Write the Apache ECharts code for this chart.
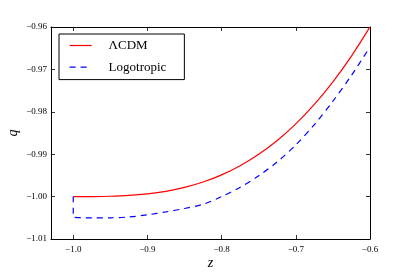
<!DOCTYPE html>
<html><head><meta charset="utf-8">
<script src="https://cdn.jsdelivr.net/npm/echarts@6/dist/echarts.min.js"></script>
<style>html,body{margin:0;padding:0;background:#fff}#c{width:412px;height:274px}</style>
</head><body><div id="c"></div>
<script>
const zValues = [-1.0, -0.975, -0.95, -0.925, -0.9, -0.875, -0.85, -0.825, -0.8, -0.775, -0.75, -0.725, -0.7, -0.675, -0.65, -0.625, -0.6];
const lcdmQ = [-1.0000, -0.99999, -0.99992, -0.99973, -0.99936, -0.99875, -0.99783, -0.99656, -0.99487, -0.99271, -0.99002, -0.98675, -0.98284, -0.97825, -0.97293, -0.96685, -0.95996];
const logoZ = [-1.0, -1.0, -0.975, -0.95, -0.925, -0.9, -0.875, -0.85, -0.825, -0.8, -0.775, -0.75, -0.725, -0.7, -0.675, -0.65, -0.625, -0.6];
const logoQ = [-1.0000, -1.0048, -1.0050, -1.0050, -1.0048, -1.0043, -1.0036, -1.0028, -1.0018, -1.0000, -0.9978, -0.9951, -0.9918, -0.9878, -0.9830, -0.9775, -0.9714, -0.9647];
const xTicks = [-1.0, -0.9, -0.8, -0.7, -0.6];
const yTicks = [-1.01, -1.00, -0.99, -0.98, -0.97, -0.96];
const seriesNames = ['\u039BCDM', 'Logotropic'];

const font = 'Liberation Serif';
const minus = s => s.replace('-', '\u2212');
const chart = echarts.init(document.getElementById('c'), null, {renderer: 'canvas'});
const tickStyle = {show: true, inside: true, length: 4, lineStyle: {color: '#000', width: 0.8}};
const baseX = {type: 'value', min: -1.03, max: -0.6, interval: 0.1, splitLine: {show: false},
  axisLine: {show: true, onZero: false, lineStyle: {color: '#000', width: 1}}, axisTick: tickStyle};
const baseY = {type: 'value', min: -1.01, max: -0.96, interval: 0.01, splitLine: {show: false},
  axisLine: {show: true, onZero: false, lineStyle: {color: '#000', width: 1}}, axisTick: tickStyle};
chart.setOption({
  animation: false,
  grid: {left: 51, right: 42, top: 27, bottom: 35, containLabel: false, outerBoundsMode: 'none'},
  xAxis: [
    Object.assign({}, baseX, {position: 'bottom',
      axisLabel: {show: true, fontFamily: font, fontSize: 9, color: '#000', margin: 6,
        customValues: xTicks, formatter: v => minus(v.toFixed(1))},
      axisTick: Object.assign({}, tickStyle, {customValues: xTicks}),
      name: 'z', nameLocation: 'middle', nameGap: 17, nameMoveOverlap: false,
      nameTextStyle: {fontFamily: font, fontStyle: 'italic', fontSize: 14, color: '#000'}}),
    Object.assign({}, baseX, {position: 'top', axisLabel: {show: false},
      axisTick: Object.assign({}, tickStyle, {customValues: xTicks})})
  ],
  yAxis: [
    Object.assign({}, baseY, {position: 'left',
      axisLabel: {show: true, fontFamily: font, fontSize: 9, color: '#000', margin: 4,
        formatter: v => minus(v.toFixed(2))},
      name: 'q', nameLocation: 'middle', nameGap: 31, nameRotate: 90, nameMoveOverlap: false,
      nameTextStyle: {fontFamily: font, fontStyle: 'italic', fontSize: 14, color: '#000'}}),
    Object.assign({}, baseY, {position: 'right', axisLabel: {show: false}})
  ],
  legend: {
    show: true, orient: 'vertical', left: 59, top: 34,
    data: seriesNames,
    itemWidth: 22, itemHeight: 14, itemGap: 8.6,
    padding: [5, 18, 6, 10],
    borderColor: '#000', borderWidth: 1, backgroundColor: '#fff',
    itemStyle: {opacity: 0},
    lineStyle: {width: 1.2},
    textStyle: {fontFamily: font, fontSize: 13, color: '#000', padding: [0, 0, 0, 12]}
  },
  series: [
    {name: seriesNames[0], type: 'line', symbol: 'none', showSymbol: false, smooth: 0.3,
      data: zValues.map((z, i) => [z, lcdmQ[i]]),
      lineStyle: {color: '#ff0000', width: 1.2}, itemStyle: {color: '#ff0000'}},
    {name: seriesNames[1], type: 'line', symbol: 'none', showSymbol: false, smooth: 0.3,
      data: logoZ.map((z, i) => [z, logoQ[i]]),
      lineStyle: {color: '#0000ff', width: 1.2, type: [6, 5]}, itemStyle: {color: '#0000ff'}}
  ]
});
</script></body></html>
